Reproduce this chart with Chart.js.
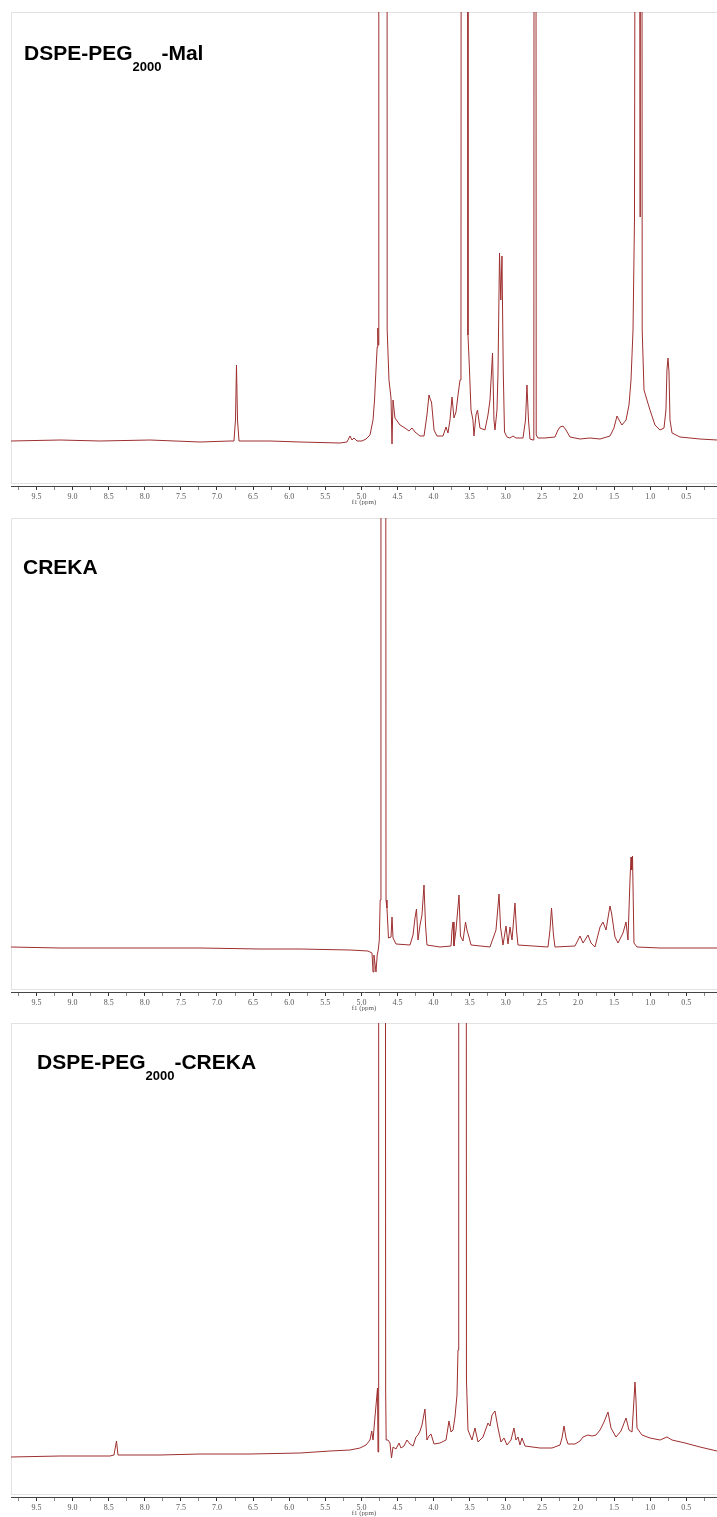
<!DOCTYPE html>
<html>
<head>
<meta charset="utf-8">
<script src="https://cdn.jsdelivr.net/npm/chart.js@4.4.1/dist/chart.umd.min.js"></script>
<style>
body { margin: 0; width: 717px; height: 1517px; overflow: hidden; background: #fff; position: relative; }
.panel { position: absolute; left: 0; width: 717px; height: 506px; }
.box { position: absolute; left: 11px; top: 12px; width: 720px; height: 470px; border: 1px solid #e2e2e2; }
.panel canvas { position: absolute; left: 0; top: 0; }
.lbl { position: absolute; font-family: "Liberation Sans", Arial, sans-serif; font-weight: bold; font-size: 21px; line-height: 21px; color: #000; white-space: nowrap; }
.lbl sub { font-size: 13px; vertical-align: -11px; line-height: 0; }
</style>
</head>
<body>
<div class="panel" style="top:0px"><div class="box"></div><canvas id="c1" width="717" height="506"></canvas></div>
<div class="panel" style="top:506px"><div class="box"></div><canvas id="c2" width="717" height="506"></canvas></div>
<div class="panel" style="top:1011px"><div class="box"></div><canvas id="c3" width="717" height="506"></canvas></div>
<div class="lbl" style="left:24px;top:42px">DSPE-PEG<sub>2000</sub>-Mal</div>
<div class="lbl" style="left:23px;top:556px">CREKA</div>
<div class="lbl" style="left:37px;top:1051px">DSPE-PEG<sub>2000</sub>-CREKA</div>
<script>
// chemical shift (ppm) and intensity (a.u., 0 = baseline, 2000 = off scale)
var malPpm = [
  9.853, 9.174, 8.62, 7.928, 7.235, 6.82, 6.765, 6.744, 6.73, 6.716,
  6.695, 6.266, 5.85, 5.296, 5.2, 5.158, 5.13, 5.102, 5.061, 4.992,
  4.936, 4.881, 4.839, 4.818, 4.805, 4.791, 4.781, 4.773, 4.767, 4.759,
  4.648, 4.643, 4.618, 4.59, 4.576, 4.562, 4.535, 4.465, 4.396, 4.341,
  4.299, 4.258, 4.188, 4.133, 4.092, 4.064, 4.043, 4.029, 3.994, 3.953,
  3.87, 3.828, 3.801, 3.773, 3.745, 3.718, 3.69, 3.662, 3.634, 3.621,
  3.61, 3.535, 3.524, 3.503, 3.482, 3.455, 3.441, 3.413, 3.392, 3.358,
  3.289, 3.247, 3.219, 3.184, 3.164, 3.15, 3.122, 3.108, 3.087, 3.069,
  3.053, 3.035, 3.018, 2.984, 2.942, 2.9, 2.859, 2.762, 2.727, 2.707,
  2.686, 2.665, 2.623, 2.612, 2.601, 2.59, 2.579, 2.554, 2.457, 2.319,
  2.277, 2.249, 2.208, 2.166, 2.111, 1.972, 1.834, 1.695, 1.557, 1.502,
  1.46, 1.432, 1.391, 1.335, 1.294, 1.266, 1.238, 1.218, 1.175, 1.139,
  1.123, 1.111, 1.086, 1.045, 1.003, 0.934, 0.865, 0.809, 0.782, 0.768,
  0.754, 0.74, 0.726, 0.698, 0.588, 0.311, 0.075
];
var malInt = [
  -1, 0, -1, 0, -2, -1, -1, 20, 75, 20,
  -1, -1, -2, -3, -2, 4, 0, 2, -1, -1,
  1, 5, 20, 40, 60, 80, 93, 112, 95, 2000,
  2000, 110, 60, 42, -4, 40, 22, 15, 12, 9,
  12, 8, 4, 4, 25, 45, 40, 38, 10, 4,
  4, 13, 7, 20, 43, 22, 28, 45, 60, 90,
  2000, 2000, 105, 70, 30, 20, 4, 25, 30, 12,
  10, 25, 40, 87, 20, 10, 30, 68, 187, 140,
  184, 68, 8, 3, 2, 4, 2, 2, 20, 55,
  20, 1, 0, 5, 2000, 2000, 5, 2, 2, 3,
  10, 13, 14, 10, 3, 1, 2, 1, 4, 12,
  24, 20, 15, 20, 35, 60, 110, 220, 2000, 223,
  2000, 110, 50, 40, 30, 15, 10, 12, 30, 70,
  82, 68, 20, 7, 3, 1, 0
];

var crekaPpm = [
  9.853, 9.174, 8.344, 7.235, 6.404, 5.85, 5.158, 4.909, 4.853, 4.839,
  4.826, 4.798, 4.781, 4.767, 4.752, 4.74, 4.729, 4.673, 4.659, 4.646,
  4.625, 4.59, 4.576, 4.562, 4.521, 4.327, 4.285, 4.258, 4.237, 4.216,
  4.188, 4.161, 4.133, 4.112, 4.092, 3.912, 3.759, 3.745, 3.731, 3.718,
  3.69, 3.648, 3.628, 3.593, 3.558, 3.538, 3.51, 3.482, 3.219, 3.136,
  3.094, 3.073, 3.039, 2.997, 2.97, 2.942, 2.914, 2.873, 2.852, 2.831,
  2.416, 2.388, 2.367, 2.34, 2.319, 2.042, 2.0, 1.972, 1.931, 1.903,
  1.862, 1.82, 1.765, 1.695, 1.654, 1.612, 1.578, 1.557, 1.536, 1.488,
  1.446, 1.377, 1.335, 1.308, 1.28, 1.266, 1.256, 1.245, 1.225, 1.183,
  0.865, 0.311, 0.075
];
var crekaInt = [
  1, 0, 0, 0, -1, -1, -2, -3, -5, -24,
  -7, -24, -7, -2, 8, 48, 2000, 2000, 48, 40,
  10, 11, 31, 10, 4, 3, 13, 30, 39, 8,
  23, 33, 63, 23, 3, 1, 2, 18, 26, 2,
  18, 53, 12, 7, 26, 18, 11, 3, 1, 18,
  54, 21, 3, 22, 4, 21, 8, 45, 18, 3,
  1, 18, 40, 13, 1, 2, 8, 12, 5, 8,
  13, 5, 1, 21, 26, 18, 33, 42, 35, 11,
  5, 15, 26, 8, 68, 91, 78, 92, 5, 1,
  0, 0, 0
];

var conjPpm = [
  9.853, 9.174, 8.482, 8.427, 8.392, 8.371, 7.79, 7.235, 6.543, 5.85,
  5.435, 5.158, 5.02, 4.936, 4.881, 4.857, 4.839, 4.812, 4.791, 4.777,
  4.77, 4.761, 4.676, 4.664, 4.657, 4.632, 4.604, 4.583, 4.562, 4.521,
  4.479, 4.452, 4.41, 4.369, 4.327, 4.285, 4.244, 4.216, 4.188, 4.161,
  4.12, 4.092, 4.064, 4.036, 3.994, 3.912, 3.828, 3.787, 3.759, 3.731,
  3.704, 3.676, 3.662, 3.652, 3.554, 3.545, 3.524, 3.468, 3.427, 3.385,
  3.316, 3.247, 3.219, 3.191, 3.15, 3.108, 3.067, 3.025, 2.984, 2.928,
  2.887, 2.859, 2.831, 2.804, 2.776, 2.734, 2.527, 2.36, 2.249, 2.222,
  2.194, 2.166, 2.139, 2.042, 1.972, 1.931, 1.862, 1.806, 1.751, 1.695,
  1.64, 1.585, 1.543, 1.474, 1.405, 1.335, 1.294, 1.252, 1.225, 1.211,
  1.197, 1.183, 1.114, 1.003, 0.865, 0.768, 0.698, 0.518, 0.311, 0.075
];
var conjInt = [
  -9, -8, -8, -7, 7, -7, -7, -6, -6, -5,
  -3, -2, 0, 3, 8, 17, 8, 31, 48, 60,
  -4, 2000, 2000, 57, 8, 8, 5, -10, 1, -1,
  5, 0, 2, 8, 4, 2, 11, 13, 17, 23,
  39, 8, 12, 14, 4, 5, 8, 27, 16, 18,
  31, 53, 98, 2000, 2000, 68, 18, 8, 20, 6,
  11, 25, 22, 33, 37, 20, 6, 10, 3, 8,
  20, 8, 11, 3, 10, 2, 0, 0, 3, 10,
  22, 10, 4, 4, 7, 11, 13, 12, 13, 18,
  26, 36, 20, 11, 17, 30, 18, 16, 48, 66,
  48, 20, 13, 10, 8, 11, 8, 5, 1, -3
];

var axisMin = 0.075, axisMax = 9.853;
var tickStep = 0.25;

function toPoints(xs, ys) {
  return xs.map(function (x, i) { return { x: x, y: ys[i] }; });
}

function isMajor(v) {
  return Math.abs(v * 2 - Math.round(v * 2)) < 1e-6;
}

function nmr(id, xs, ys, yMin, yMax) {
  var ctx = document.getElementById(id).getContext('2d');
  return new Chart(ctx, {
    type: 'line',
    data: {
      datasets: [{
        data: toPoints(xs, ys),
        borderColor: '#9e2f2f',
        borderWidth: 1,
        pointRadius: 0,
        tension: 0,
        fill: false
      }]
    },
    options: {
      responsive: false,
      animation: false,
      devicePixelRatio: 1,
      layout: { padding: { left: 11, top: 12, right: 0, bottom: 0 } },
      plugins: { legend: { display: false }, tooltip: { enabled: false } },
      scales: {
        x: {
          type: 'linear',
          reverse: true,
          min: axisMin,
          max: axisMax,
          afterFit: function (s) { s.height = 20; },
          border: { display: true, color: '#444', width: 1 },
          grid: {
            drawOnChartArea: false,
            drawTicks: true,
            tickLength: 4,
            color: '#444',
            tickColor: function (c) { return c.tick && isMajor(c.tick.value) ? '#333' : '#888'; }
          },
          ticks: {
            stepSize: tickStep,
            includeBounds: false,
            autoSkip: false,
            maxRotation: 0,
            padding: 2,
            color: '#555',
            font: { family: 'Liberation Serif', size: 8 },
            callback: function (v) { return isMajor(v) ? v.toFixed(1) : ''; }
          },
          title: {
            display: true,
            text: 'f1 (ppm)',
            color: '#555',
            padding: 0,
            font: { family: 'Liberation Serif', size: 7 }
          }
        },
        y: { display: false, min: yMin, max: yMax }
      }
    }
  });
}

nmr('c1', malPpm, malInt, -46, 428);
nmr('c2', crekaPpm, crekaInt, -44, 430);
nmr('c3', conjPpm, conjInt, -49, 425);
</script>
</body>
</html>
